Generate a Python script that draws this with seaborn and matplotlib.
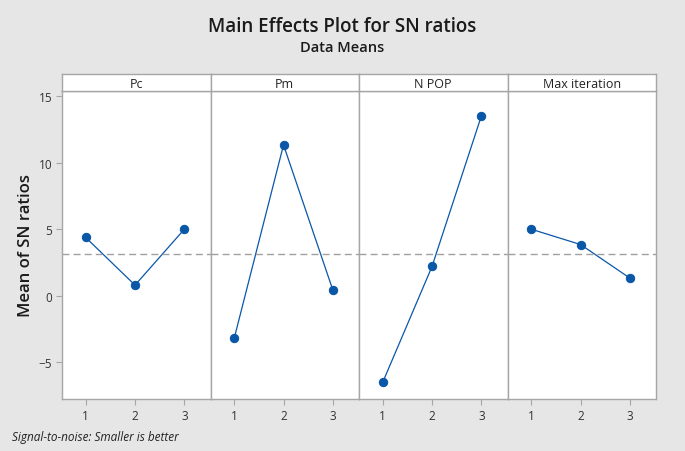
import matplotlib
matplotlib.use('Agg')
import matplotlib.pyplot as plt
import seaborn as sns
import pandas as pd
import numpy as np

sns.set_style("white")
plt.rcParams['font.family'] = ['Open Sans', 'DejaVu Sans']

# valores
factors = ['Pc', 'Pm', 'N POP', 'Max iteration']
levels = [1, 2, 3]
pc_means = [4.38, 0.80, 5.00]
pm_means = [-3.20, 11.33, 0.43]
npop_means = [-6.50, 2.20, 13.50]
maxit_means = [5.00, 3.85, 1.33]
grand_mean = 3.15

series = [pc_means, pm_means, npop_means, maxit_means]
df = pd.DataFrame({
    'factor': np.repeat(factors, len(levels)),
    'level': levels * len(factors),
    'mean': np.concatenate(series),
})

bg = '#e6e6e6'
edge = '#a6a6a6'
blue = '#0a57a8'

fig = plt.figure(figsize=(6.85, 4.52), dpi=100, facecolor=bg)
left, right = 62 / 685, 656 / 685
bottom, top = 1 - 400 / 452, 1 - 91.7 / 452
head_top = 1 - 75 / 452
w = (right - left) / 4

axes = []
for i, f in enumerate(factors):
    ax = fig.add_axes([left + i * w, bottom, w, top - bottom],
                      sharey=axes[0] if axes else None)
    sub = df[df['factor'] == f]
    sns.lineplot(data=sub, x='level', y='mean', ax=ax, color=blue, lw=0.9,
                 marker='o', markersize=6, markeredgecolor=blue)
    ax.axhline(grand_mean, color='#a0a0a0', ls=(0, (5, 3)), lw=1)
    ax.set_xlim(0.52, 3.53)
    ax.set_ylim(-7.75, 15.4)
    ax.set_xticks(levels)
    ax.set_yticks([-5, 0, 5, 10, 15])
    ax.set_xlabel('')
    ax.set_ylabel('')
    ax.tick_params(axis='both', length=4, width=0.8, color=edge,
                   labelsize=8.5, labelcolor='#333333', pad=3, direction='out')
    ax.tick_params(axis='x', bottom=True)
    if i == 0:
        ax.tick_params(axis='y', left=True)
    else:
        ax.tick_params(axis='y', left=False, labelleft=False)
    for s in ax.spines.values():
        s.set_color(edge)
        s.set_linewidth(1.0)
    ax.set_facecolor('white')
    axes.append(ax)

    # cabecera del panel
    hx = fig.add_axes([left + i * w, top, w, head_top - top])
    hx.set_xticks([])
    hx.set_yticks([])
    hx.set_facecolor('white')
    for s in hx.spines.values():
        s.set_color(edge)
        s.set_linewidth(1.0)
    hx.text(0.5, 0.45, f, ha='center', va='center', fontsize=9, color='#222222',
            transform=hx.transAxes)

fig.text(0.5, 1 - 27 / 452, 'Main Effects Plot for SN ratios', ha='center', va='center',
         fontsize=13.5, fontweight='semibold', color='#1a1a1a')
fig.text(0.5, 1 - 48 / 452, 'Data Means', ha='center', va='center',
         fontsize=10.5, fontweight='semibold', color='#1a1a1a')
fig.text(26 / 685, (bottom + top) / 2, 'Mean of SN ratios', rotation=90, ha='center',
         va='center', fontsize=12, fontweight='semibold', color='#1a1a1a')
fig.text(12 / 685, 1 - 438 / 452, 'Signal-to-noise: Smaller is better', ha='left',
         va='center', fontsize=8.5, style='italic', color='#222222')

plt.savefig('out.png', dpi=100, facecolor=bg)
plt.close()
